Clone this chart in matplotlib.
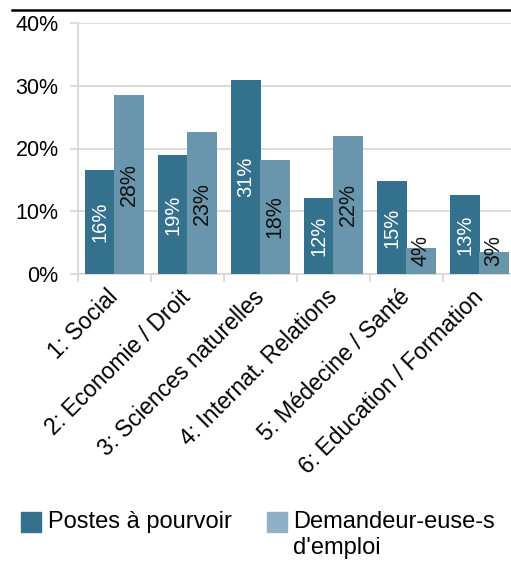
import numpy as np
import matplotlib.pyplot as plt
from matplotlib.patches import Rectangle
from matplotlib.lines import Line2D

plt.rcParams['font.family'] = ['Liberation Sans', 'DejaVu Sans']

categories = ["1: Social", "2: Economie / Droit", "3: Sciences naturelles",
              "4: Internat. Relations", "5: Médecine / Santé", "6: Education / Formation"]
postes = [16.5, 19.0, 30.9, 12.1, 14.8, 12.6]
demandeurs = [28.5, 22.6, 18.2, 22.0, 4.1, 3.5]
postes_labels = ["16%", "19%", "31%", "12%", "15%", "13%"]
demandeurs_labels = ["28%", "23%", "18%", "22%", "4%", "3%"]
yticks = [0, 10, 20, 30, 40]

dark = "#33718d"
light = "#6996ac"
light_legend = "#8fb0c5"
grid_col = "#d9d9d9"

fig = plt.figure(figsize=(5.11, 5.61), dpi=100)
ax = fig.add_axes([78 / 511, 1 - 274 / 561, 438 / 511, (274 - 23) / 561])

x = np.arange(len(categories))
w = 0.404
ax.bar(x - 0.2, postes, w, color=dark, zorder=3)
ax.bar(x + 0.2, demandeurs, w, color=light, zorder=3)

# value labels, kept inside the bar where there is room
for xi, v, lab in zip(x, postes, postes_labels):
    ax.text(xi - 0.2, max(v / 2, 3.7), lab, rotation=90, ha="center", va="center",
            color="white", fontsize=14.5, zorder=4)
for xi, v, lab in zip(x, demandeurs, demandeurs_labels):
    ax.text(xi + 0.2, max(v / 2, 3.7), lab, rotation=90, ha="center", va="center",
            color="#111111", fontsize=15.5, zorder=4)

ax.set_xlim(-0.5, len(categories) - 0.5)
ax.set_ylim(0, 40)
ax.set_yticks(yticks)
ax.set_yticklabels([f"{t}%" for t in yticks], fontsize=15.5)
ax.yaxis.grid(True, color=grid_col, lw=1.3, zorder=0)

ax.set_xticks(x)
ax.set_xticklabels(categories, rotation=45, ha="right", va="center",
                   rotation_mode="anchor", fontsize=16.5)
ax.tick_params(axis="x", length=0, pad=14)
ax.set_xticks(np.arange(-0.5, len(categories), 1), minor=True)
ax.tick_params(axis="x", which="minor", length=6, color=grid_col, width=1.3)
ax.tick_params(axis="y", length=6, color=grid_col, width=1.3, pad=8)

for s in ["top", "right"]:
    ax.spines[s].set_visible(False)
for s in ["left", "bottom"]:
    ax.spines[s].set_color(grid_col)
    ax.spines[s].set_linewidth(1.3)

# black rule at the top
fig.add_artist(Line2D([12 / 511, 1], [1 - 10 / 561, 1 - 10 / 561], color="black", lw=1.8))

# legend
fig.add_artist(Rectangle((21 / 511, 1 - 532 / 561), 20 / 511, 20 / 561, color=dark))
fig.text(48 / 511, 1 - 522 / 561, "Postes à pourvoir", fontsize=17, va="center")
fig.add_artist(Rectangle((267 / 511, 1 - 532 / 561), 20 / 511, 20 / 561, color=light_legend))
fig.text(293 / 511, 1 - 522 / 561, "Demandeur-euse-s", fontsize=17, va="center")
fig.text(293 / 511, 1 - 548 / 561, "d'emploi", fontsize=17, va="center")

fig.savefig("out.png", dpi=100)
